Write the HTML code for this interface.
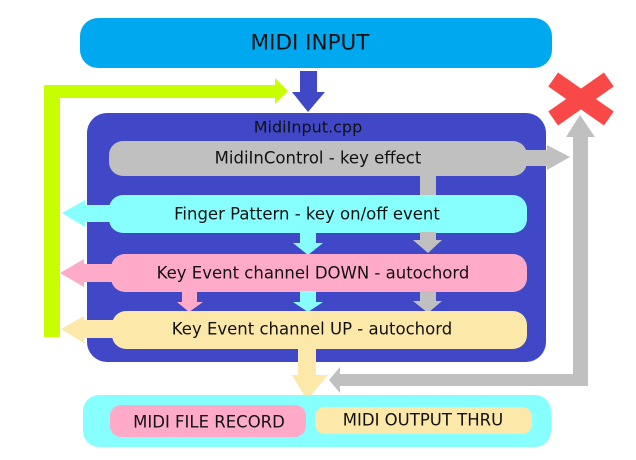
<!DOCTYPE html>
<html><head><meta charset="utf-8"><style>
html,body{margin:0;padding:0;background:#fff;}
svg{display:block;}
text{font-family:"DejaVu Sans","Liberation Sans",sans-serif;fill:#111;text-anchor:middle;dominant-baseline:central;}
</style></head><body>
<svg width="636" height="460" viewBox="0 0 636 460" xmlns="http://www.w3.org/2000/svg">
<rect x="80" y="18" width="472" height="50" rx="18" fill="#00a8f0"/>
<text x="310" y="43" font-size="21.5">MIDI INPUT</text>
<polygon points="300,71 317,71 317,92 325,92 308,112 292,92 300,92" fill="#4048c8"/>
<polygon points="44,85 275,85 275,78 288,91 275,104 275,98 60,98 60,337 44,337" fill="#c8ff00"/>
<rect x="87" y="113" width="459" height="249" rx="20" fill="#4048c8"/>
<text x="308" y="127" font-size="16">MidiInput.cpp</text>
<rect x="109" y="141" width="418" height="35" rx="14" fill="#c0c0c0"/>
<polygon points="520,150 547,150 547,145 570,157 547,170 547,166 520,166" fill="#c0c0c0"/>
<rect x="420" y="176" width="16" height="60" fill="#c0c0c0"/>
<text x="318" y="158" font-size="16.5">MidiInControl - key effect</text>
<rect x="109" y="195" width="418" height="38" rx="14" fill="#88ffff"/>
<polygon points="115,205 85,205 85,200 62,213 85,227 85,222 115,222" fill="#88ffff"/>
<text x="307" y="214" font-size="16.5">Finger Pattern - key on/off event</text>
<polygon points="300,232 316,232 316,243 323,243 308,255 293,243 300,243" fill="#88ffff"/>
<polygon points="420,232 436,232 436,240 442,240 428,253 413,240 420,240" fill="#c0c0c0"/>
<rect x="111" y="254" width="416" height="38" rx="14" fill="#ffaac8"/>
<polygon points="115,264 84,264 84,259 60,273 84,287 84,282 115,282" fill="#ffaac8"/>
<text x="313" y="273" font-size="16.5">Key Event channel DOWN - autochord</text>
<polygon points="182,291 197,291 197,302 203,302 189,312 177,302 182,302" fill="#ffaac8"/>
<polygon points="300,291 316,291 316,302 323,302 308,312 293,302 300,302" fill="#88ffff"/>
<polygon points="420,291 436,291 436,301 442,301 428,313 413,301 420,301" fill="#c0c0c0"/>
<rect x="112" y="311" width="415" height="38" rx="14" fill="#fce8a8"/>
<polygon points="115,320 84,320 84,316 61,329 84,343 84,338 115,338" fill="#fce8a8"/>
<text x="312" y="329" font-size="16.5">Key Event channel UP - autochord</text>
<polygon points="298,348 316,348 316,375 328,375 307,400 292,375 298,375" fill="#fce8a8"/>
<polygon points="573,137 566,137 580,115 595,137 588,137 588,386 340,386 340,393 329,380 340,367 340,374 573,374" fill="#c0c0c0"/>
<g transform="translate(581,99)">
<rect x="-34" y="-8.5" width="68" height="17" fill="#f84848" transform="rotate(35)"/>
<rect x="-34" y="-8.5" width="68" height="17" fill="#f84848" transform="rotate(-35)"/>
</g>
<rect x="83" y="395" width="468" height="52" rx="16" fill="#88ffff"/>
<rect x="110" y="405" width="196" height="32" rx="11" fill="#ffaac8"/>
<text x="209" y="422" font-size="16.5">MIDI FILE RECORD</text>
<rect x="315" y="407" width="217" height="27" rx="10" fill="#fce8a8"/>
<text x="423" y="420" font-size="16.5">MIDI OUTPUT THRU</text>
</svg>
</body></html>
